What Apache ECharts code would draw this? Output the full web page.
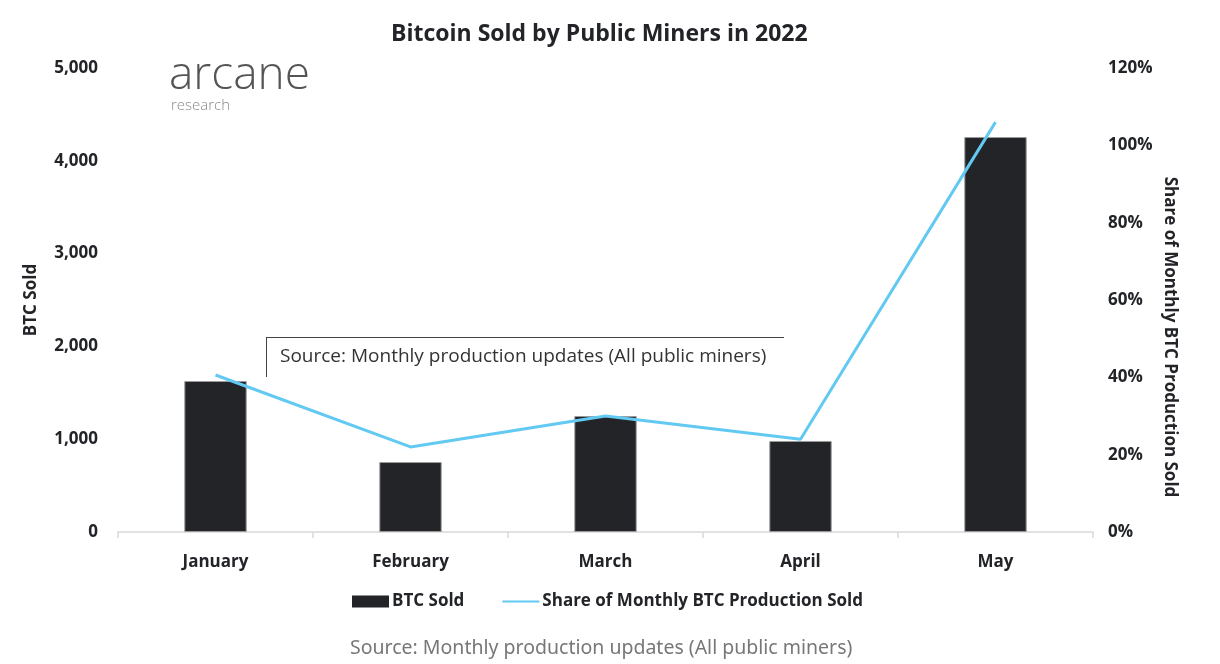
<!DOCTYPE html>
<html>
<head>
<meta charset="utf-8">
<script src="https://cdn.jsdelivr.net/npm/echarts@6/dist/echarts.min.js"></script>
<style>html,body{margin:0;padding:0;background:#fff}#c{width:1220px;height:664px}</style>
</head>
<body>
<div id="c"></div>
<script>
const categories = ['January', 'February', 'March', 'April', 'May'];
const btcSold = [1627, 754, 1250, 981, 4256];
const shareSold = [40.6, 22.0, 30.0, 24.0, 106.0];
const leftTicks = [0, 1000, 2000, 3000, 4000, 5000];
const rightTicks = [0, 20, 40, 60, 80, 100, 120];

const chart = echarts.init(document.getElementById('c'), null, {renderer: 'canvas'});
const FONT = '"Open Sans", sans-serif';
const DARK = '#222428';
chart.setOption({
  animation: false,
  backgroundColor: '#ffffff',
  title: {
    text: 'Bitcoin Sold by Public Miners in 2022',
    left: 386, top: 18,
    textStyle: {fontFamily: FONT, fontSize: 23, fontWeight: 'bold', color: DARK}
  },
  legend: {
    bottom: 49, left: 347,
    itemGap: 37, itemWidth: 37, itemHeight: 12,
    textStyle: {fontFamily: FONT, fontSize: 17, fontWeight: 'bold', color: DARK, padding: [0, 0, 0, -2]},
    data: [
      {name: 'BTC Sold', icon: 'rect', itemStyle: {borderWidth: 0}},
      {name: 'Share of Monthly BTC Production Sold', itemStyle: {opacity: 0}}
    ]
  },
  grid: {left: 118, right: 127, top: 68, bottom: 132},
  xAxis: {
    type: 'category', data: categories,
    axisLine: {lineStyle: {color: '#d9d9d9', width: 1.5}},
    axisTick: {show: true, length: 6, lineStyle: {color: '#d9d9d9', width: 1.5}},
    axisLabel: {fontFamily: FONT, fontSize: 17, fontWeight: 'bold', color: DARK, margin: 22}
  },
  yAxis: [{
    type: 'value', min: leftTicks[0], max: leftTicks[leftTicks.length - 1], interval: 1000,
    name: 'BTC Sold', nameLocation: 'middle', nameGap: 78,
    nameTextStyle: {fontFamily: FONT, fontSize: 17, fontWeight: 'bold', color: DARK},
    splitLine: {show: false}, axisLine: {show: false}, axisTick: {show: false},
    axisLabel: {fontFamily: FONT, fontSize: 17, fontWeight: 'bold', color: DARK, margin: 20,
      formatter: v => v.toLocaleString('en-US')}
  }, {
    type: 'value', min: rightTicks[0], max: rightTicks[rightTicks.length - 1], interval: 20,
    position: 'right',
    splitLine: {show: false}, axisLine: {show: false}, axisTick: {show: false},
    axisLabel: {fontFamily: FONT, fontSize: 17, fontWeight: 'bold', color: DARK, margin: 15,
      formatter: v => v + '%'}
  }],
  series: [{
    name: 'BTC Sold', type: 'bar', data: btcSold, barWidth: '32%',
    itemStyle: {color: DARK, borderColor: '#9a9a9a', borderWidth: 1}
  }, {
    name: 'Share of Monthly BTC Production Sold', type: 'line', yAxisIndex: 1, data: shareSold,
    symbol: 'none', lineStyle: {color: '#62C9F2', width: 3}, itemStyle: {color: '#62C9F2'}
  }],
  graphic: [
    {type: 'text', left: 169, top: 53, style: {text: 'arcane', font: '300 46px "Open Sans", sans-serif', fill: '#555555'}},
    {type: 'text', left: 171, top: 98, style: {text: 'research', font: '300 15px "Open Sans", sans-serif', fill: '#8a8a8a'}},
    {type: 'text', x: 1170, y: 337, rotation: -Math.PI / 2,
      style: {text: 'Share of Monthly BTC Production Sold', font: 'bold 17px "Open Sans", sans-serif', fill: DARK, align: 'center', verticalAlign: 'middle'}},
    {type: 'line', shape: {x1: 266, y1: 337.5, x2: 784, y2: 337.5}, style: {stroke: '#444', lineWidth: 1}},
    {type: 'line', shape: {x1: 266.5, y1: 337, x2: 266.5, y2: 377}, style: {stroke: '#444', lineWidth: 1}},
    {type: 'text', left: 280, top: 347, style: {text: 'Source: Monthly production updates (All public miners)', font: '19px "Open Sans", sans-serif', fill: '#333'}},
    {type: 'text', left: 350, top: 638, style: {text: 'Source: Monthly production updates (All public miners)', font: '19.5px "Noto Sans", sans-serif', fill: '#777'}}
  ]
});
</script>
</body>
</html>
